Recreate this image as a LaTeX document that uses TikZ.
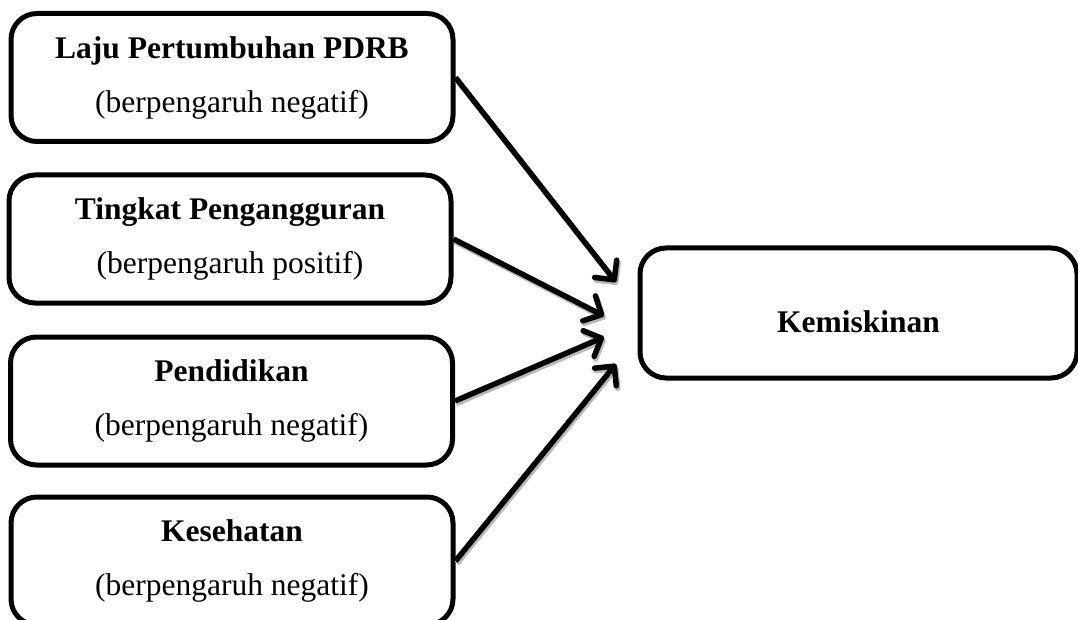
\documentclass[tikz,border=0pt]{standalone}
\usepackage{fontspec}
\setmainfont{Liberation Serif}
\usetikzlibrary{arrows.meta}

\begin{document}
\begin{tikzpicture}[x=1pt,y=-1pt,
  kotak/.style={draw,line width=5pt,rounded corners=26pt,minimum width=442pt,minimum height=128pt,
    align=center,inner sep=0pt,font=\fontsize{31.5}{54}\selectfont},
  panah/.style={line width=5.5pt,-{Straight Barb[length=14pt,width=28pt,line cap=round,line join=round]},
    preaction={draw=gray!55,line width=5.5pt,transform canvas={shift={(1.5pt,-2.5pt)}}}}]
\useasboundingbox (0,0) rectangle (1078,620);
% faktor-faktor
\node[kotak] (pdrb) at (232,77.5) {\textbf{Laju Pertumbuhan PDRB}\\(berpengaruh negatif)};
\node[kotak] (nganggur) at (230,239) {\textbf{Tingkat Pengangguran}\\(berpengaruh positif)};
\node[kotak] (didik) at (231.5,401) {\textbf{Pendidikan}\\(berpengaruh negatif)};
\node[kotak] (sehat) at (232,561) {\textbf{Kesehatan}\\(berpengaruh negatif)};
% variabel terikat
\node[kotak,minimum width=437pt,minimum height=130pt,text height=39.5pt,text depth=0pt] (miskin) at (858.5,313) {\textbf{Kemiskinan}};
% ujung panah
\coordinate (u1) at (616,282);
\coordinate (u2) at (604,316);
\coordinate (u3) at (604,337);
\coordinate (u4) at (616,364);
\draw[panah] (pdrb.east) -- (u1);
\draw[panah] (nganggur.east) -- (u2);
\draw[panah] (didik.east) -- (u3);
\draw[panah] (sehat.east) -- (u4);
\end{tikzpicture}
\end{document}
